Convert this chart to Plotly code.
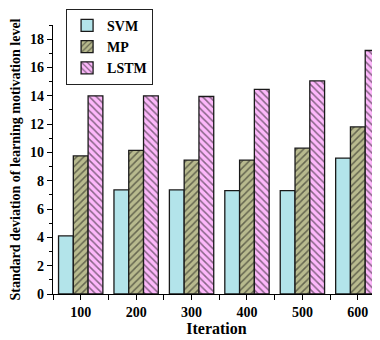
import plotly.graph_objects as go

iterations = ["100", "200", "300", "400", "500", "600"]
svm = [4.1, 7.35, 7.35, 7.3, 7.3, 9.6]
mp = [9.75, 10.15, 9.45, 9.45, 10.3, 11.8]
lstm = [14.0, 14.0, 13.95, 14.45, 15.05, 17.2]

series = [
    ("SVM", svm, "#B3E4EA", ""),
    ("MP", mp, "#B8BA8E", "/"),
    ("LSTM", lstm, "#FDB8FB", "\\"),
]

xpos = list(range(len(iterations)))
FONT = "Liberation Serif"

fig = go.Figure()
for name, vals, color, shape in series:
    fig.add_trace(go.Bar(
        x=xpos, y=vals, name=name,
        marker=dict(
            color=color,
            line=dict(color="#1a1a1a", width=1.3),
            pattern=dict(shape=shape, fgcolor="#111111", bgcolor=color,
                         size=5, solidity=0.3, fillmode="overlay") if shape else None,
        ),
    ))

# page body has an 8px margin, so the figure is shifted by 8px
fig.update_layout(
    width=372, height=332,
    margin=dict(l=45, r=0, t=17, b=46),
    paper_bgcolor="white", plot_bgcolor="white",
    barmode="group", bargap=0.2, bargroupgap=0,
    font=dict(family=FONT, color="black", size=13),
    showlegend=True,
    legend=dict(
        x=0.04, y=1.06, xanchor="left", yanchor="top",
        bordercolor="#222", borderwidth=1, bgcolor="white",
        font=dict(family=FONT, size=14, color="black", weight="bold"),
        tracegroupgap=0, itemwidth=30,
    ),
)
fig.update_xaxes(
    range=[-0.5, 5.4],
    tickmode="array", tickvals=xpos, ticktext=iterations,
    ticks="outside", ticklen=5, tickwidth=1, tickcolor="black",
    minor=dict(tickmode="array", tickvals=[i + 0.5 for i in xpos[:-1]] + [-0.5],
               ticks="outside", ticklen=5, tickcolor="black", showgrid=False),
    showline=True, linecolor="black", linewidth=1.3,
    showgrid=False, zeroline=False,
    tickfont=dict(family=FONT, size=14, weight="bold"),
    title=dict(text="Iteration", font=dict(family=FONT, size=16, weight="bold"), standoff=2),
)
fig.update_yaxes(
    range=[0, 19], dtick=2, tick0=0,
    ticks="outside", ticklen=5, tickwidth=1, tickcolor="black",
    minor=dict(dtick=1, ticks="outside", ticklen=3, tickcolor="black", showgrid=False),
    showline=True, linecolor="black", linewidth=1.3,
    showgrid=False, zeroline=False,
    tickfont=dict(family=FONT, size=14, weight="bold"),
    title=dict(text="Standard deviation of learning motivation level",
               font=dict(family=FONT, size=14, weight="bold"), standoff=6),
)

fig.write_html("out.html")
